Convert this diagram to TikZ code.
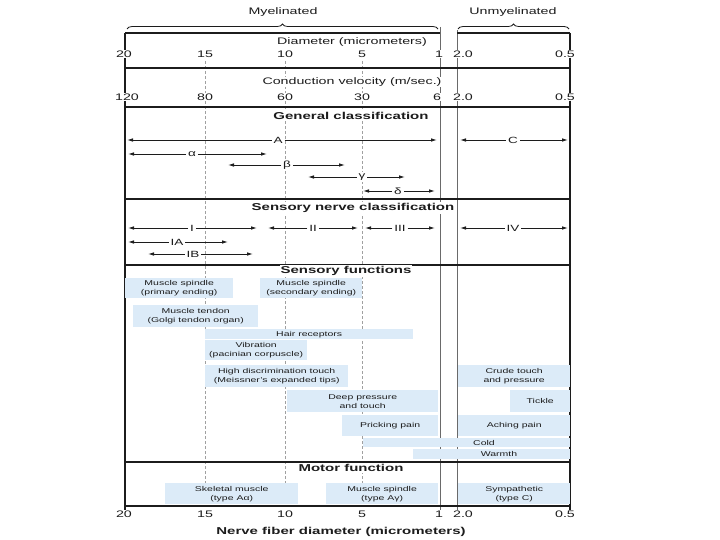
\documentclass[tikz,border=0pt]{standalone}
\usepackage{fontspec}
\setmainfont{Liberation Sans}[FakeStretch=1.5]
\usetikzlibrary{arrows.meta,decorations.pathreplacing}
\definecolor{fnblue}{HTML}{DCEBF8}
\definecolor{inkgray}{HTML}{1C1C1C}
\definecolor{guidegray}{HTML}{A0A0A0}
\definecolor{divgray}{HTML}{6A6A6A}
\tikzset{
  frameline/.style={draw=inkgray, line width=1.4pt},
  guideline/.style={draw=guidegray, line width=0.8pt, dash pattern=on 3pt off 2pt},
  divline/.style={draw=divgray, line width=1pt},
  numlbl/.style={font=\fontsize{9.5}{11}\selectfont, text=inkgray, fill=white, inner sep=1pt},
  axislbl/.style={font=\fontsize{9.5}{11}\selectfont, text=inkgray, fill=white, inner sep=1pt},
  headlbl/.style={font=\bfseries\fontsize{10}{12}\selectfont, text=inkgray, fill=white, inner sep=1pt},
  clslbl/.style={font=\fontsize{9}{10}\selectfont, text=inkgray, fill=white, inner sep=1.8pt},
  clsarrow/.style={draw=inkgray, line width=0.9pt, -{Latex[length=6pt,width=3.6pt]}},
  fnbox/.style={anchor=north west, fill=fnblue, inner sep=0pt, align=center,
    font=\fontsize{7}{9}\selectfont, text=inkgray},
  fntext/.style={font=\fontsize{7}{9}\selectfont, text=inkgray, inner sep=0pt},
  bracket/.style={draw=inkgray, line width=0.8pt, decorate, decoration={brace, amplitude=5pt}}
}
\begin{document}
\begin{tikzpicture}[x=1pt, y=-1pt]
  \useasboundingbox (0,0) rectangle (720,540);
  % Guide lines
  \foreach \gx in {205,285,362}
    \draw[guideline] (\gx,61) -- (\gx,506);
  \draw[divline] (440,27) -- (440,511);
  \draw[divline] (457,30) -- (457,511);
  % Frame
  \draw[frameline] (125,33) -- (440,33);
  \draw[frameline] (457,33) -- (570,33);
  \draw[frameline] (125,33) -- (125,511);
  \draw[frameline] (570,33) -- (570,511);
  \foreach \ry in {68,107,199,265,462,506}
    \draw[frameline] (125,\ry) -- (570,\ry);
  % Braces
  \coordinate (myelw) at (127,29);
  \coordinate (myele) at (438,29);
  \coordinate (unmyw) at (458,29);
  \coordinate (unmye) at (569,29);
  \draw[bracket] (myelw) -- (myele);
  \draw[bracket] (unmyw) -- (unmye);
  \node[axislbl] (myel) at (283,12.5) {Myelinated};
  \node[axislbl] (unmyel) at (513,12.5) {Unmyelinated};
  % Axis rows
  \node[axislbl] (diamlbl) at (352,42) {Diameter (micrometers)};
  \node[axislbl] (velolbl) at (352,82) {Conduction velocity (m/sec.)};
  \foreach \val/\px [count=\i] in {20/124,15/205,10/285,5/362,1/439,2.0/463,0.5/565}
    \node[numlbl] (diam\i) at (\px,54) {\val};
  \foreach \val/\px [count=\i] in {120/127,80/205,60/285,30/362,6/437,2.0/463,0.5/565}
    \node[numlbl] (velo\i) at (\px,97) {\val};
  \foreach \val/\px [count=\i] in {20/124,15/205,10/285,5/362,1/439,2.0/463,0.5/565}
    \node[numlbl] (base\i) at (\px,514) {\val};
  \node[headlbl] (xlbl) at (341,532) {Nerve fiber diameter (micrometers)};
  % Classification headings
  \node[headlbl] (genhead) at (351,116) {General classification};
  \node[headlbl] (senshead) at (353,208) {Sensory nerve classification};
  \node[headlbl] (fnhead) at (346,271) {Sensory functions};
  \node[headlbl] (mothead) at (351,468) {Motor function};
  % Class ranges
  \foreach \nm/\txt/\lx/\xa/\xb/\yy in {
      clsA/A/278/127/437/140, clsC/C/513/460/568/140,
      alpha/α/192/128/267/154, beta/β/287/228/345/165,
      gamma/γ/362/308/405/177, delta/δ/398/363/435/191,
      grpI/I/192/128/257/228, grpII/II/313/268/358/228,
      grpIII/III/400/365/435/228, grpIV/IV/513/460/568/228,
      grpIA/IA/177/128/228/242, grpIB/IB/193/148/253/254}
  {
    \coordinate (\nm-w) at (\xa,\yy);
    \coordinate (\nm-e) at (\xb,\yy);
    \node[clslbl] (\nm) at (\lx,\yy) {\txt};
    \draw[clsarrow] (\nm) -- (\nm-w);
    \draw[clsarrow] (\nm) -- (\nm-e);
  }
  % Sensory functions
  \node[fnbox, minimum width=108pt, minimum height=20pt] (spinprim) at (125,278) {Muscle spindle\\(primary ending)};
  \node[fnbox, minimum width=102pt, minimum height=20pt] (spinsec) at (260,278) {Muscle spindle\\(secondary ending)};
  \node[fnbox, minimum width=125pt, minimum height=22pt] (tendon) at (133,305) {Muscle tendon\\(Golgi tendon organ)};
  \node[fnbox, minimum width=208pt, minimum height=10pt] (hair) at (205,329) {Hair receptors};
  \node[fnbox, minimum width=102pt, minimum height=20pt] (vibr) at (205,340) {Vibration\\(pacinian corpuscle)};
  \node[fnbox, minimum width=143pt, minimum height=22pt] (meiss) at (205,365) {High discrimination touch\\(Meissner's expanded tips)};
  \node[fnbox, minimum width=112pt, minimum height=22pt] (crude) at (458,365) {Crude touch\\and pressure};
  \node[fnbox, minimum width=151pt, minimum height=22pt] (deep) at (287,390) {Deep pressure\\and touch};
  \node[fnbox, minimum width=60pt, minimum height=22pt] (tickle) at (510,390) {Tickle};
  \node[fnbox, minimum width=96pt, minimum height=21pt] (prick) at (342,415) {Pricking pain};
  \node[fnbox, minimum width=112pt, minimum height=21pt] (aching) at (458,415) {Aching pain};
  \node[fnbox, minimum width=207pt, minimum height=9pt] (cold) at (363,438) {};
  \node[fntext] (coldlbl) at (484,442.5) {Cold};
  \node[fnbox, minimum width=157pt, minimum height=10pt] (warmth) at (413,449) {};
  \node[fntext] (warmlbl) at (499,454) {Warmth};
  % Motor function
  \node[fnbox, minimum width=133pt, minimum height=21pt] (skel) at (165,483) {Skeletal muscle\\(type Aα)};
  \node[fnbox, minimum width=112pt, minimum height=21pt] (spinmot) at (326,483) {Muscle spindle\\(type Aγ)};
  \node[fnbox, minimum width=112pt, minimum height=21pt] (symp) at (458,483) {Sympathetic\\(type C)};
\end{tikzpicture}
\end{document}
